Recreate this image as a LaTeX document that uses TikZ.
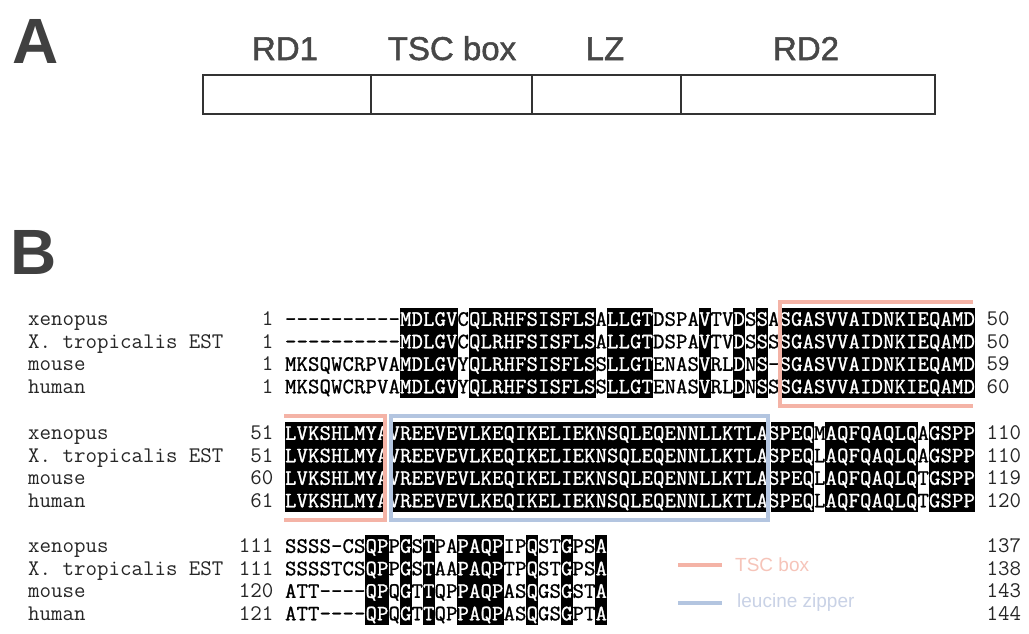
\documentclass[tikz,border=0pt]{standalone}
\usepackage{fontspec}
\setmainfont{Liberation Sans}
\newfontfamily\seqfont[FakeBold=1.2]{Latin Modern Mono}
\newfontfamily\namefont{Latin Modern Mono}
\newfontfamily\labfont[FakeBold=1.5]{Liberation Sans}
\definecolor{tscpink}{HTML}{F4B3A6}
\definecolor{tsctext}{HTML}{F6C4B9}
\definecolor{lzblue}{HTML}{B3C5E0}
\definecolor{lztext}{HTML}{C9D2E6}
\definecolor{hdgray}{HTML}{404040}
\definecolor{lbgray}{HTML}{474747}
\ExplSyntaxOn
\cs_new:Npn \seqitem #1#2 { \tl_item:Nn #1 {#2} }
\ExplSyntaxOff
\newcommand\cw{11.5}
\newcommand\xs{285}
\newcommand\rh{22.5}
% y = row centre, seq, mask, number of columns
\newcommand\seqline[4]{%
  \edef\curseq{#2}\edef\curmask{#3}%
  \foreach \i in {1,...,#4}{%
    \edef\cm{\seqitem\curmask{\i}}%
    \edef\curch{\seqitem\curseq{\i}}%
    \if1\cm\def\tc{white}\else\def\tc{black}\fi
    \node[seqchar,text=\tc] at ({\xs+(\i-0.5)*\cw},{#1+6.5}) {\curch};
  }}
% top, mask, n
\newcommand\shadeblock[3]{%
  \edef\curmask{#2}%
  \foreach \i in {1,...,#3}{%
    \edef\cm{\seqitem\curmask{\i}}%
    \if1\cm
      \fill[black] ({\xs+(\i-1)*\cw-0.3},#1) rectangle ({\xs+\i*\cw+0.3},{#1+4*\rh});
    \fi
  }}
\def\maskA{000000000011111011111111111011110000100101011111111111111111}
\def\maskB{111111111111111111111111111111111111111111111101111111101111}
\def\maskC{0000000110101001111001001001}
\begin{document}
\begin{tikzpicture}[x=1pt,y=-1pt,
  seqchar/.style={font=\seqfont\fontsize{21.9}{22}\selectfont,inner sep=0pt,anchor=base},
  namelab/.style={font=\namefont\fontsize{22.3}{22}\selectfont,inner sep=0pt,anchor=base west,text=black!85},
  numlab/.style={font=\namefont\fontsize{22.3}{22}\selectfont,inner sep=0pt,anchor=base east,text=black!85},
  endlab/.style={font=\namefont\fontsize{22.3}{22}\selectfont,inner sep=0pt,anchor=base west,text=black!85},
  panel/.style={font=\bfseries\fontsize{64}{64}\selectfont,text=hdgray,inner sep=0pt,anchor=base west},
  domlab/.style={font=\labfont\fontsize{33}{33}\selectfont,text=lbgray,inner sep=0pt,anchor=base},
  tscline/.style={draw=tscpink,line width=4pt},
  lzline/.style={draw=lzblue,line width=4pt},
  domainbox/.style={draw=black!80,line width=1.5pt}]
\useasboundingbox (0,0) rectangle (1029,633);
\fill[white] (0,0) rectangle (1029,633);

% ---------- Panel A ----------
\node[panel] (pA) at (12,63) {A};
\draw[domainbox] (203,75) rectangle (935,114);
\node[domlab] (rd1) at (285,60) {RD1};
\node[domlab] (tsc) at (452,60) {TSC box};
\node[domlab] (lz) at (605,60) {LZ};
\node[domlab] (rd2) at (806,60) {RD2};
\draw[domainbox] (371,75) -- (371,114);
\draw[domainbox] (532,75) -- (532,114);
\draw[domainbox] (681,75) -- (681,114);

% ---------- Panel B ----------
\node[panel] (pB) at (10,274) {B};

% Block 1 (top 308)
\shadeblock{308}{\maskA}{60}
\foreach \r/\nm/\st/\en/\sq in {
  0/xenopus/1/50/----------MDLGVCQLRHFSISFLSALLGTDSPAVTVDSSASGASVVAIDNKIEQAMD,
  1/X. tropicalis EST/1/50/----------MDLGVCQLRHFSISFLSALLGTDSPAVTVDSSSSGASVVAIDNKIEQAMD,
  2/mouse/1/59/MKSQWCRPVAMDLGVYQLRHFSISFLSSLLGTENASVRLDNS-SGASVVAIDNKIEQAMD,
  3/human/1/60/MKSQWCRPVAMDLGVYQLRHFSISFLSSLLGTENASVRLDNSSSGASVVAIDNKIEQAMD}{
  \pgfmathsetmacro\yc{308+(\r+0.5)*\rh}
  \node[namelab] (n1\r) at (28,\yc+6.5) {\nm};
  \node[numlab] (s1\r) at (273.5,\yc+6.5) {\st};
  \node[endlab] (e1\r) at (986.5,\yc+6.5) {\en};
  \seqline{\yc}{\sq}{\maskA}{60}
}
\draw[tscline] (973,302) -- (779.5,302) -- (779.5,406) -- (973,406);

% Block 2 (top 422)
\shadeblock{422}{\maskB}{60}
\foreach \r/\nm/\st/\en/\sq in {
  0/xenopus/51/110/LVKSHLMYAVREEVEVLKEQIKELIEKNSQLEQENNLLKTLASPEQMAQFQAQLQAGSPP,
  1/X. tropicalis EST/51/110/LVKSHLMYAVREEVEVLKEQIKELIEKNSQLEQENNLLKTLASPEQLAQFQAQLQAGSPP,
  2/mouse/60/119/LVKSHLMYAVREEVEVLKEQIKELIEKNSQLEQENNLLKTLASPEQLAQFQAQLQTGSPP,
  3/human/61/120/LVKSHLMYAVREEVEVLKEQIKELIEKNSQLEQENNLLKTLASPEQLAQFQAQLQTGSPP}{
  \pgfmathsetmacro\yc{422+(\r+0.5)*\rh}
  \node[namelab] (n2\r) at (28,\yc+6.5) {\nm};
  \node[numlab] (s2\r) at (273.5,\yc+6.5) {\st};
  \node[endlab] (e2\r) at (986.5,\yc+6.5) {\en};
  \seqline{\yc}{\sq}{\maskB}{60}
}
\fill[white] (385,418) rectangle (391,518);
\fill[white] (765.5,418) rectangle (770.5,518);
\draw[tscline] (284,416) -- (385,416) -- (385,520) -- (284,520);
\draw[lzline] (390.5,416) rectangle (768,520);

% Block 3 (top 535)
\shadeblock{535}{\maskC}{28}
\foreach \r/\nm/\st/\en/\sq in {
  0/xenopus/111/137/SSSS-CSQPPGSTPAPAQPIPQSTGPSA,
  1/X. tropicalis EST/111/138/SSSSTCSQPPGSTAAPAQPTPQSTGPSA,
  2/mouse/120/143/ATT----QPQGTTQPPAQPASQGSGSTA,
  3/human/121/144/ATT----QPQGTTQPPAQPASQGSGPTA}{
  \pgfmathsetmacro\yc{535+(\r+0.5)*\rh}
  \node[namelab] (n3\r) at (28,\yc+6.5) {\nm};
  \node[numlab] (s3\r) at (273.5,\yc+6.5) {\st};
  \node[endlab] (e3\r) at (986.5,\yc+6.5) {\en};
  \seqline{\yc}{\sq}{\maskC}{28}
}

% Legend
\coordinate (lt1) at (678,565); \coordinate (lt2) at (722,565);
\coordinate (lb1) at (678,603); \coordinate (lb2) at (722,603);
\draw[tscline] (lt1) -- (lt2);
\draw[lzline] (lb1) -- (lb2);
\node[anchor=west,inner sep=0pt,text=tsctext,font=\fontsize{19}{19}\selectfont] (legt) at (735,565) {TSC box};
\node[anchor=west,inner sep=0pt,text=lztext,font=\fontsize{19}{19}\selectfont] (legb) at (737,603) {leucine zipper};
\end{tikzpicture}
\end{document}
